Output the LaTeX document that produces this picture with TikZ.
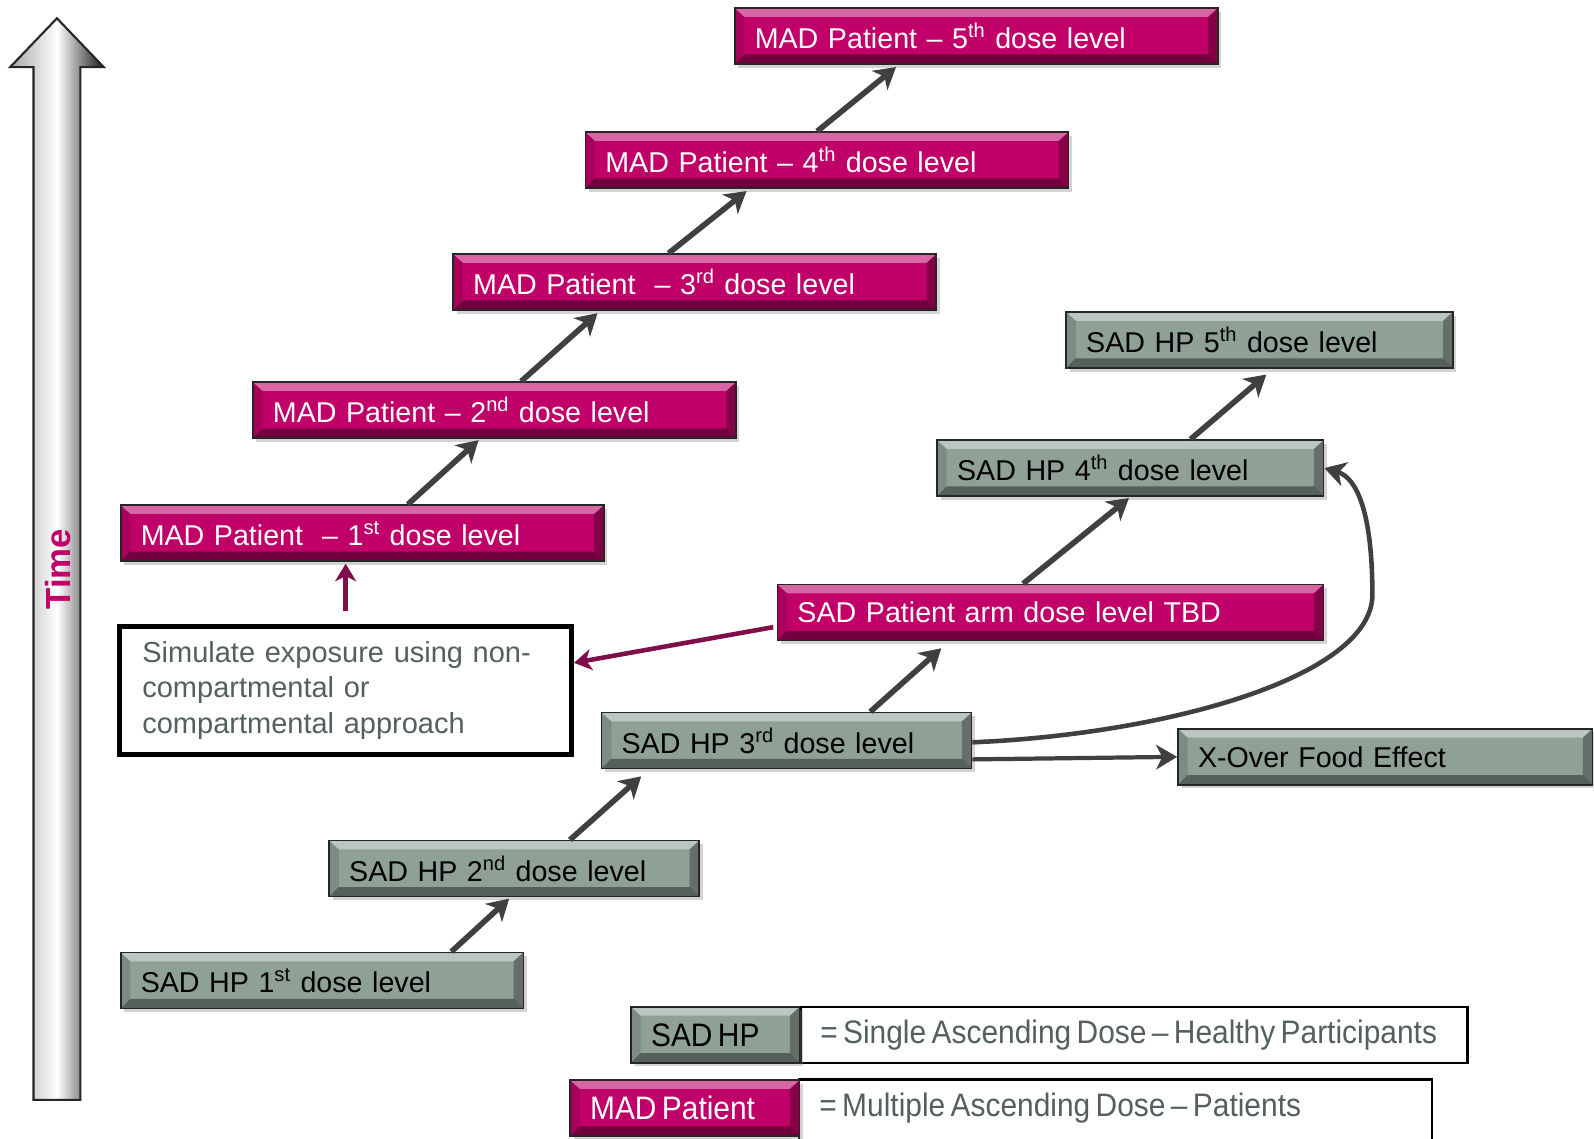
\documentclass[tikz,border=0pt]{standalone}
\usepackage{fontspec}
\setmainfont{Liberation Sans}
\usepackage{graphicx}
\usetikzlibrary{arrows.meta,shadows,calc}

\definecolor{madpink}{RGB}{192,0,104}
\definecolor{madline}{RGB}{128,14,74}
\definecolor{hpgrey}{RGB}{143,160,150}
\definecolor{txtgrey}{RGB}{84,96,90}

\newcommand{\boxfont}{\fontsize{16.3}{20.2}\selectfont}
\newcommand{\keyfont}[1]{\scalebox{0.92}[1]{\fontsize{18.5}{22}\selectfont #1}}

\tikzset{
  bevel/.style={path picture={
      \coordinate (bvnw) at (path picture bounding box.north west);
      \coordinate (bvne) at (path picture bounding box.north east);
      \coordinate (bvsw) at (path picture bounding box.south west);
      \coordinate (bvse) at (path picture bounding box.south east);
      \fill[white, opacity=.4] (bvnw) -- (bvne) -- ([shift={(-5.5pt,-5pt)}]bvne) -- ([shift={(5.5pt,-5pt)}]bvnw) -- cycle;
      \fill[black, opacity=.12] (bvnw) -- (bvsw) -- ([shift={(5.5pt,5.5pt)}]bvsw) -- ([shift={(5.5pt,-5pt)}]bvnw) -- cycle;
      \fill[black, opacity=.4] (bvsw) -- (bvse) -- ([shift={(-5.5pt,5.5pt)}]bvse) -- ([shift={(5.5pt,5.5pt)}]bvsw) -- cycle;
      \fill[black, opacity=.3] (bvne) -- (bvse) -- ([shift={(-5.5pt,5.5pt)}]bvse) -- ([shift={(-5.5pt,-5pt)}]bvne) -- cycle;
    }},
  dosebox/.style={draw=black!85, line width=0.9pt, anchor=west, minimum height=11.2mm,
    inner xsep=4mm, inner ysep=0pt, text width=#1, align=left, font=\boxfont, bevel,
    drop shadow={opacity=0.35, shadow xshift=2pt, shadow yshift=-2pt}},
  madbox/.style={dosebox=#1, fill=madpink, text=white},
  hpbox/.style={dosebox=#1, fill=hpgrey, text=black},
  hparrow/.style={draw=black!75, line width=3.2pt, -{Stealth[length=12pt, width=14pt, inset=3.5pt]}},
  madarrow/.style={draw=madline, line width=2.6pt, -{Stealth[length=10pt, width=12pt, inset=3pt]}},
  keyline/.style={draw=black, line width=1.4pt},
}

\begin{document}
\begin{tikzpicture}[x=0.2033mm, y=-0.2033mm]
  \useasboundingbox (0,0) rectangle (1568,1120);

  % time axis
  \draw[black!85, line width=1.2pt, left color=black!35, right color=black!90, middle color=white]
    (33,1082) -- (33,66) -- (10,66) -- (56,18) -- (102,66) -- (79,66) -- (79,1082) -- cycle;
  \node[rotate=90, text=madpink, font=\fontsize{19.8}{22}\selectfont\bfseries] (time) at (57,560) {Time};

  % MAD patient steps
  \node[madbox=88.6mm] (mad5) at (722,35.5) {MAD Patient -- 5\textsuperscript{th} dose level};
  \node[madbox=88.6mm] (mad4) at (575,157.5) {MAD Patient -- 4\textsuperscript{th} dose level};
  \node[madbox=88.6mm] (mad3) at (445,277.5) {MAD Patient~ -- 3\textsuperscript{rd} dose level};
  \node[madbox=88.6mm] (mad2) at (248,403.5) {MAD Patient -- 2\textsuperscript{nd} dose level};
  \node[madbox=88.6mm] (mad1) at (118,524.5) {MAD Patient~ -- 1\textsuperscript{st} dose level};
  \node[madbox=101.2mm] (sadpat) at (764,602.5) {SAD Patient arm dose level TBD};

  % SAD HP steps
  \node[hpbox=69.3mm] (hp5) at (1048,334.5) {SAD HP 5\textsuperscript{th} dose level};
  \node[hpbox=69.3mm] (hp4) at (921,460.5) {SAD HP 4\textsuperscript{th} dose level};
  \node[hpbox=66mm] (hp3) at (591,728.5) {SAD HP 3\textsuperscript{rd} dose level};
  \node[hpbox=66mm] (hp2) at (323,854.5) {SAD HP 2\textsuperscript{nd} dose level};
  \node[hpbox=72.5mm] (hp1) at (118,964.5) {SAD HP 1\textsuperscript{st} dose level};
  \node[hpbox=74.9mm] (xover) at (1158,744.5) {X-Over Food Effect};

  \node[draw=black, line width=2.9pt, fill=white, minimum width=90.3mm, minimum height=25.6mm,
    text width=81.3mm, align=left, text=txtgrey, font=\fontsize{16.5}{20.2}\selectfont] (sim) at (340,679)
    {Simulate exposure using non-\\compartmental or\\compartmental approach};

  % arrows
  \draw[hparrow, shorten >=1pt] ($(hp1.north west)!.82!(hp1.north east)$) -- ($(hp2.south west)!.49!(hp2.south east)$);
  \draw[hparrow, shorten >=6pt] ($(hp2.north west)!.65!(hp2.north east)$) -- ($(hp3.south west)!.13!(hp3.south east)$);
  \draw[hparrow, shorten >=6pt] ($(hp3.north west)!.725!(hp3.north east)$) -- ($(sadpat.south west)!.315!(sadpat.south east)$);
  \draw[hparrow, shorten >=1pt] ($(sadpat.north west)!.45!(sadpat.north east)$) -- (hp4.south);
  \draw[hparrow, shorten >=5pt] ($(hp4.north west)!.655!(hp4.north east)$) -- ($(hp5.south west)!.535!(hp5.south east)$);
  \draw[hparrow, shorten >=1pt] ($(mad1.north west)!.594!(mad1.north east)$) -- ($(mad2.south west)!.47!(mad2.south east)$);
  \draw[hparrow, shorten >=2pt] ($(mad2.north west)!.555!(mad2.north east)$) -- ($(mad3.south west)!.305!(mad3.south east)$);
  \draw[hparrow, shorten >=2pt] ($(mad3.north west)!.446!(mad3.north east)$) -- ($(mad4.south west)!.34!(mad4.south east)$);
  \draw[hparrow, shorten >=2pt] ($(mad4.north west)!.48!(mad4.north east)$) -- ($(mad5.south west)!.34!(mad5.south east)$);
  \draw[hparrow, line width=2.4pt] ([yshift=-10.7pt]hp3.east) -- (xover.west);
  \draw[hparrow, line width=2.6pt] ([yshift=-1pt]hp3.east) .. controls (1150,722) and (1350,665) .. (1350,585)
    .. controls (1350,505) and (1335,470) .. (hp4.east);
  \draw[madarrow, shorten <=7.5pt, shorten >=1pt] (sim.north) -- (sim.north |- mad1.south);
  \draw[madarrow, shorten <=2pt] ([yshift=-8pt]sadpat.west) -- ([yshift=15.6pt]sim.east);

  % key
  \node[keyline, fill=white, anchor=west, minimum height=11.2mm, inner xsep=4mm, text width=125.4mm,
    align=left, text=txtgrey] (sadtxt) at (786,1018) {\keyfont{= Single Ascending Dose -- Healthy Participants}};
  \node[anchor=west, minimum height=11.2mm, inner xsep=4mm, text width=118.4mm,
    align=left, text=txtgrey] (madtxt) at (786,1090) {\keyfont{= Multiple Ascending Dose -- Patients}};
  \draw[keyline] ([yshift=-20pt]madtxt.south west) -- (madtxt.north west) -- (madtxt.north east) -- ([yshift=-20pt]madtxt.south east);
  \node[hpbox=25.7mm, font=\normalsize] (sadkey) at (620,1018) {\keyfont{SAD HP}};
  \node[madbox=37.9mm, font=\normalsize] (madkey) at (560,1090) {\keyfont{MAD Patient}};
\end{tikzpicture}
\end{document}
